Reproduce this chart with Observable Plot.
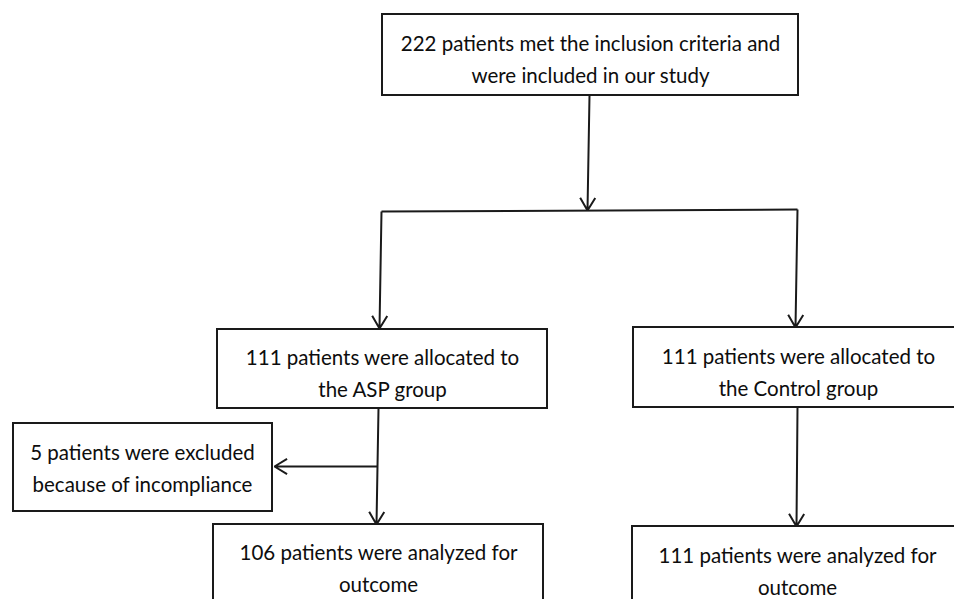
<!DOCTYPE html>
<html><head><meta charset="utf-8">
<script src="https://cdn.jsdelivr.net/npm/d3@7"></script>
<script src="https://cdn.jsdelivr.net/npm/@observablehq/plot@0.6"></script>
<style>html,body{margin:0;padding:0;background:#fff}svg{display:block}</style>
</head><body><div id="chart"></div>
<script>
// Flowchart nodes
const boxLabels = [
  "222 patients met the inclusion criteria and\nwere included in our study",
  "111 patients were allocated to\nthe ASP group",
  "111 patients were allocated to\nthe Control group",
  "5 patients were excluded\nbecause of incompliance",
  "106 patients were analyzed for\noutcome",
  "111 patients were analyzed for\noutcome"
];
const boxLeft   = [382, 217, 633, 13, 213, 632];
const boxRight  = [798, 547, 962, 272, 543, 962];
const boxTop    = [14, 329, 327, 423, 524, 526];
const boxBottom = [95, 408, 407, 511, 620, 620];
const labelX    = [590, 382, 798, 142, 378, 797];
const labelY    = [56, 370, 369, 465, 565, 568];

// Connectors (arrows)
const arrowX1 = [589, 381, 797, 378, 377, 797];
const arrowY1 = [95, 211, 209, 408, 466, 407];
const arrowX2 = [587, 379, 795, 376, 274, 796];
const arrowY2 = [210, 328, 327, 524, 466, 526];

// Splitter line
const splitX = [381, 797];
const splitY = [211, 209];

const boxes = boxLabels.map((t, i) => ({t, x1: boxLeft[i], x2: boxRight[i], y1: boxTop[i], y2: boxBottom[i], lx: labelX[i], ly: labelY[i]}));
const arrows = arrowX1.map((_, i) => ({x1: arrowX1[i], y1: arrowY1[i], x2: arrowX2[i], y2: arrowY2[i]}));
const split = [{x1: splitX[0], y1: splitY[0], x2: splitX[1], y2: splitY[1]}];

const chart = Plot.plot({
  width: 954,
  height: 599,
  margin: 0,
  x: {domain: [0, 954], range: [0, 954], axis: null},
  y: {domain: [0, 599], range: [0, 599], axis: null},
  style: {background: "#fff", color: "#111"},
  marks: [
    Plot.rect(boxes, {x1: "x1", x2: "x2", y1: "y1", y2: "y2", fill: "#fff", stroke: "#1a1a1a", strokeWidth: 2}),
    Plot.link(split, {x1: "x1", y1: "y1", x2: "x2", y2: "y2", stroke: "#1a1a1a", strokeWidth: 2}),
    Plot.arrow(arrows, {x1: "x1", y1: "y1", x2: "x2", y2: "y2", stroke: "#1a1a1a", strokeWidth: 2, headLength: 11, headAngle: 62, strokeLinecap: "butt"}),
    Plot.text(boxes, {x: "lx", y: "ly", text: "t", fontSize: 20.5, fontFamily: "Lato", lineHeight: 1.57, textAnchor: "middle", lineAnchor: "middle", fill: "#0d0d0d"})
  ]
});
document.getElementById("chart").appendChild(chart);
</script>
</body></html>
